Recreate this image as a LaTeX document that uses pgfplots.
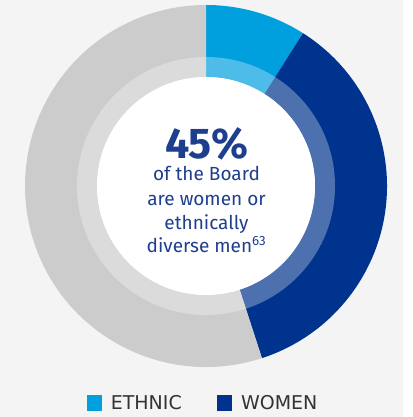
\documentclass[border=0pt]{standalone}
\usepackage{fontspec}
\setmainfont{Fira Sans}
\newfontfamily\legfont{DejaVu Sans}
\usepackage{pgfplots}
\usepackage{pgfplotstable}
\pgfplotsset{compat=1.18}
\definecolor{bgcol}{RGB}{244,244,244}
\definecolor{ethnic}{RGB}{0,160,223}
\definecolor{women}{RGB}{0,51,141}
\definecolor{other}{RGB}{204,204,204}
\definecolor{txtblue}{RGB}{30,62,142}
\definecolor{legtxt}{RGB}{51,51,51}
\pgfplotstableread{
label value
Ethnic 9
Women 36
Other 55
}\slices
\begin{document}
\begin{tikzpicture}
\pgfplotstablegetelem{0}{value}\of\slices \pgfmathsetmacro{\vA}{\pgfplotsretval}
\pgfplotstablegetelem{1}{value}\of\slices \pgfmathsetmacro{\vB}{\pgfplotsretval}
\pgfplotstablegetelem{2}{value}\of\slices \pgfmathsetmacro{\vC}{\pgfplotsretval}
\pgfmathsetmacro{\aO}{90}
\pgfmathsetmacro{\aA}{90-3.6*\vA}
\pgfmathsetmacro{\aB}{\aA-3.6*\vB}
\pgfmathsetmacro{\aC}{\aB-3.6*\vC}
\def\cx{206}\def\cy{231}
\def\Ro{181}\def\Rm{129}\def\Ri{109}
\begin{axis}[
  scale only axis, width=403pt, height=417pt,
  xmin=0, xmax=403, ymin=0, ymax=417,
  axis line style={draw=none}, ticks=none,
  axis background/.style={fill=bgcol},
  clip=false,
  legend columns=2,
  legend style={draw=none, fill=none, at={(axis cs:203,4)}, anchor=south,
    font=\legfont\fontsize{19}{21}\selectfont\color{legtxt}, inner sep=0pt,
    /tikz/every even column/.append style={column sep=33pt}},
  legend image code/.code={\fill[#1, draw=none] (0pt,-8pt) rectangle (15pt,8pt); \path (22pt,0pt);},
]
% slices
\fill[ethnic] ([shift={(\aO:\Ro)}]axis cs:\cx,\cy) arc[start angle=\aO, end angle=\aA, radius=\Ro]
  -- ([shift={(\aA:\Ri)}]axis cs:\cx,\cy) arc[start angle=\aA, end angle=\aO, radius=\Ri] -- cycle;
\fill[women] ([shift={(\aA:\Ro)}]axis cs:\cx,\cy) arc[start angle=\aA, end angle=\aB, radius=\Ro]
  -- ([shift={(\aB:\Ri)}]axis cs:\cx,\cy) arc[start angle=\aB, end angle=\aA, radius=\Ri] -- cycle;
\fill[other] ([shift={(\aB:\Ro)}]axis cs:\cx,\cy) arc[start angle=\aB, end angle=\aC, radius=\Ro]
  -- ([shift={(\aC:\Ri)}]axis cs:\cx,\cy) arc[start angle=\aC, end angle=\aB, radius=\Ri] -- cycle;
% inner lighter band
\fill[white, opacity=0.3, even odd rule] (axis cs:\cx,\cy) circle[radius=\Rm] (axis cs:\cx,\cy) circle[radius=\Ri];
\fill[white] (axis cs:\cx,\cy) circle[radius=\Ri];
% centre text
\node[anchor=north, inner sep=0pt, align=center, text=txtblue, font=\fontsize{19}{24}\selectfont] at (axis cs:206.5,290)
  {{\fontsize{43}{43}\selectfont\bfseries 45\%}\\[-2pt]
   of the Board\\[1pt]
   are women or\\
   ethnically\\[-1pt]
   diverse men\textsuperscript{63}};
\addlegendimage{fill=ethnic}
\addlegendentry{ETHNIC}
\addlegendimage{fill=women}
\addlegendentry{WOMEN}
\end{axis}
\end{tikzpicture}
\end{document}
